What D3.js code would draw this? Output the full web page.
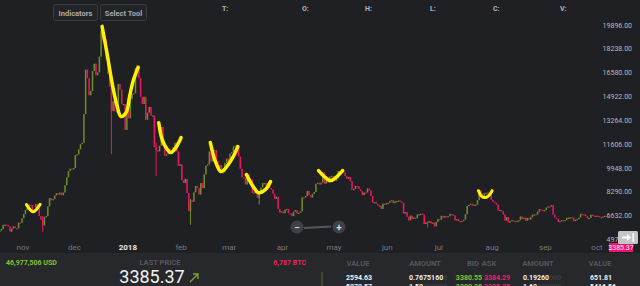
<!DOCTYPE html>
<html>
<head>
<meta charset="utf-8">
<script src="https://cdn.jsdelivr.net/npm/d3@7"></script>
<style>
  body { margin: 0; background: #1f2024; overflow: hidden; }
  svg { display: block; font-family: Roboto, "Open Sans", sans-serif; }
</style>
</head>
<body>
<svg id="chart" width="640" height="286"></svg>
<script>
// first candle date, then one daily close per day
var startDay = "2017-10-18";
var closes = [
  // oct 18-31
  5580, 5700, 5990, 6010, 5980, 5900, 5520, 5730, 5890, 5770, 5750, 6150, 6130, 6450,
  // nov
  6750, 7030, 7150, 7400, 7380, 6960, 7100, 7450, 7150, 6600, 6350, 5950, 6550, 6600, 7280,
  7850, 7700, 7780, 8040, 8200, 8100, 8240, 8050, 8240, 8750, 9300, 9730, 9900, 9850, 9950,
  // dec
  10850, 10900, 11250, 11600, 11700, 13700, 16800, 16200, 15000, 15300, 16700, 17200, 16400, 16600, 17700,
  19500, 19100, 18900, 17500, 16500, 15600, 13900, 14600, 13900, 13900, 15800, 15400, 14400, 14400, 12600, 13900,
  // jan
  13400, 14750, 15100, 15150, 16900, 17100, 16200, 14900, 14400, 14900, 13300, 13800, 14200, 13600, 13600,
  11400, 11200, 11100, 11500, 12800, 11500, 10800, 10900, 11300, 11100, 11100, 11400, 11700, 11100, 10100, 10200,
  // feb
  9100, 8900, 9200, 8200, 6950, 7700, 7600, 8250, 8700, 8550, 8100, 8900, 8550, 9500,
  10100, 10200, 11100, 10400, 11150, 11200, 10450, 9850, 10150, 9600, 9650, 10300, 10600, 10300,
  // mar
  10950, 11050, 11450, 11500, 11550, 10750, 9900, 9300, 9250, 8800, 9550, 9150, 9150, 8200, 8250,
  8270, 7870, 8200, 8600, 8900, 8900, 8700, 8900, 8550, 8450, 8150, 7800, 7950, 7100, 6850, 6930,
  // apr
  6800, 7050, 7100, 6800, 6780, 6600, 6900, 7020, 6770, 6830, 6940, 7900, 7890, 8000, 8350,
  8050, 7900, 8150, 8270, 8850, 8920, 8800, 8930, 9650, 8860, 9280, 8930, 9350, 9400, 9240,
  // may
  9070, 9230, 9740, 9700, 9850, 9650, 9380, 9200, 9320, 9030, 8430, 8480, 8700, 8680, 8480,
  8340, 8060, 8250, 8240, 8520, 8400, 8000, 7550, 7580, 7460, 7340, 7340, 7100, 7470, 7400, 7500,
  // jun
  7530, 7640, 7710, 7500, 7630, 7650, 7690, 7620, 7530, 6780, 6880, 6550, 6300, 6640, 6400,
  6500, 6460, 6710, 6740, 6760, 6720, 6050, 6180, 6150, 6250, 6090, 6150, 5890, 6200, 6390,
  // jul
  6350, 6620, 6500, 6600, 6530, 6600, 6750, 6700, 6650, 6300, 6390, 6250, 6230, 6270, 6350,
  6730, 7320, 7380, 7470, 7330, 7400, 7400, 7710, 8400, 8170, 7930, 8190, 8230, 8210, 8170, 7730,
  // aug
  7600, 7530, 7410, 7010, 7030, 6940, 6720, 6280, 6540, 6150, 6250, 6320, 6250, 6190, 6270,
  6310, 6580, 6400, 6490, 6270, 6480, 6360, 6520, 6700, 6720, 6710, 6910, 7080, 7030, 6980, 7020,
  // sep
  7190, 7270, 7260, 7360, 6700, 6500, 6410, 6190, 6250, 6320, 6290, 6330, 6490, 6490, 6520,
  6500, 6250, 6350, 6390, 6500, 6770, 6720, 6710, 6600, 6440, 6470, 6700, 6640, 6600, 6630,
  // oct
  6600, 6530, 6500, 6580, 6620, 6590, 6600
];

// a few long wicks that stick out
var wickDays = ["2017-11-12", "2017-12-17", "2017-12-22", "2018-01-17", "2018-02-06", "2018-03-18", "2018-06-24"];
var wickHigh = [6600, 19890, 14000, 11700, 7800, 8300, 6250];
var wickLow  = [5500, 18800, 10900, 9400, 6000, 7400, 5800];

var yTicks = [19896, 18238, 16580, 14922, 13264, 11606, 9948, 8290, 6632, 4974];
var monthTicks = ["2017-11-01", "2017-12-01", "2018-01-01", "2018-02-01", "2018-03-01", "2018-04-01",
  "2018-05-01", "2018-06-01", "2018-07-01", "2018-08-01", "2018-09-01", "2018-10-01"];
var monthLabels = ["nov", "dec", "2018", "feb", "mar", "apr", "may", "jun", "jul", "aug", "sep", "oct"];

// yellow hand drawn marks, [day, price]
var marks = [
  [["2017-11-03", 7400], ["2017-11-07", 6900], ["2017-11-11", 7420]],
  [["2017-12-17", 19800], ["2017-12-20", 17850], ["2017-12-23", 15760], ["2017-12-26", 14150],
   ["2017-12-28", 13530], ["2017-12-31", 13800], ["2018-01-02", 14920], ["2018-01-04", 15970], ["2018-01-07", 16940]],
  [["2018-01-19", 13100], ["2018-01-21", 11920], ["2018-01-24", 11230], ["2018-01-26", 11020],
   ["2018-01-29", 11370], ["2018-02-01", 12070]],
  [["2018-02-18", 11720], ["2018-02-21", 10390], ["2018-02-24", 9700], ["2018-02-26", 9830],
   ["2018-03-03", 10670], ["2018-03-06", 11440]],
  [["2018-03-11", 9490], ["2018-03-15", 8650], ["2018-03-18", 8230], ["2018-03-22", 8440], ["2018-03-25", 9000]],
  [["2018-04-22", 9770], ["2018-04-26", 9280], ["2018-04-29", 9070], ["2018-05-02", 9280], ["2018-05-06", 9770]],
  [["2018-07-24", 8370], ["2018-07-26", 7960], ["2018-07-28", 7890], ["2018-07-30", 8030], ["2018-08-01", 8370]]
];

var headerKeys = ["T:", "O:", "H:", "L:", "C:", "V:"];

var bookHead = ["VALUE", "AMOUNT", "BID", "ASK", "AMOUNT", "VALUE"];
var bookRows = [
  ["2594.63", "0.7675160", "3380.55", "3384.29", "0.19260", "651.81"],
  ["5070.57", "1.50", "3380.38", "3385.35", "1.60", "5416.56"]
];

var lastPrice = "3385.37";
var volUsd = "46,977,506 USD";
var volBtc = "6,787 BTC";

var svg = d3.select("#chart"),
  width = +svg.attr("width"),
  height = +svg.attr("height");

var parse = d3.timeParse("%Y-%m-%d");
var t0 = parse(startDay);

var candles = closes.map(function(c, i) {
  var open = i > 0 ? closes[i - 1] : c;
  return { date: d3.timeDay.offset(t0, i), open: open, close: c };
});

// scales
var x = d3.scaleTime()
  .domain([parse("2017-11-01"), parse("2018-10-01")])
  .range([23, 597]);
var y = d3.scaleLinear()
  .domain([4974, 19896])
  .range([239.5, 25]);

var green = "#6e8c2b", red = "#ef1463";

svg.append("rect").attr("width", width).attr("height", height).attr("fill", "#1f2024");

// price labels
svg.append("g").selectAll("text")
  .data(yTicks)
  .enter().append("text")
  .attr("x", 632)
  .attr("y", function(d) { return y(d) + 2.5; })
  .attr("text-anchor", "end")
  .attr("font-size", "7px")
  .attr("fill", "#b8b9bd")
  .text(function(d) { return d.toFixed(2); });

// candles
var plot = svg.append("g");
var dayW = x(parse("2017-11-02")) - x(parse("2017-11-01"));
var bw = dayW * 0.9;

plot.selectAll("line.wick")
  .data(wickDays)
  .enter().append("line")
  .attr("x1", function(d) { return x(parse(d)) + bw / 2; })
  .attr("x2", function(d) { return x(parse(d)) + bw / 2; })
  .attr("y1", function(d, i) { return y(wickHigh[i]); })
  .attr("y2", function(d, i) { return y(wickLow[i]); })
  .attr("stroke", function(d, i) {
    var c = candles.find(function(k) { return +k.date === +parse(d); });
    return c && c.close >= c.open ? green : red;
  })
  .attr("stroke-width", 1);

plot.selectAll("rect.candle")
  .data(candles)
  .enter().append("rect")
  .attr("x", function(d) { return x(d.date); })
  .attr("width", bw)
  .attr("y", function(d) { return y(Math.max(d.open, d.close)); })
  .attr("height", function(d) { return Math.max(1.2, Math.abs(y(d.open) - y(d.close))); })
  .attr("fill", function(d) { return d.close >= d.open ? green : red; });

// yellow marks
var markLine = d3.line()
  .x(function(p) { return x(parse(p[0])); })
  .y(function(p) { return y(p[1]); })
  .curve(d3.curveCatmullRom);

svg.append("g").selectAll("path")
  .data(marks)
  .enter().append("path")
  .attr("d", markLine)
  .attr("fill", "none")
  .attr("stroke", "#fff200")
  .attr("stroke-width", function(d, i) { return i === 0 || i === 6 ? 3 : 3.5; })
  .attr("stroke-linecap", "round")
  .attr("stroke-linejoin", "round");

// month axis
svg.append("g").selectAll("text")
  .data(monthTicks)
  .enter().append("text")
  .attr("x", function(d) { return x(parse(d)); })
  .attr("y", 250)
  .attr("text-anchor", "middle")
  .attr("font-size", "8px")
  .attr("fill", function(d, i) { return i === 2 ? "#e6e6e6" : "#76777b"; })
  .attr("font-weight", function(d, i) { return i === 2 ? "bold" : "normal"; })
  .text(function(d, i) { return monthLabels[i]; });

// last price tag
svg.append("rect").attr("x", 609).attr("y", 243).attr("width", 24).attr("height", 9).attr("fill", "#f2106b");
svg.append("text").attr("x", 621).attr("y", 250).attr("text-anchor", "middle")
  .attr("font-size", "7px").attr("fill", "#fff").text(lastPrice);

// go-to-end button
svg.append("rect").attr("x", 618).attr("y", 231).attr("width", 20).attr("height", 13).attr("rx", 1.5).attr("fill", "#c4c5c7");
svg.append("path").attr("d", "M622,236.5h5v-2.5l4,3.5l-4,3.5v-2.5h-5z").attr("fill", "#fff");
svg.append("rect").attr("x", 632.5).attr("y", 233).attr("width", 1.5).attr("height", 9).attr("fill", "#fff");

// zoom slider
svg.append("line").attr("x1", 304).attr("y1", 228).attr("x2", 331).attr("y2", 226.5)
  .attr("stroke", "#55565b").attr("stroke-width", 2);
[[297, "\u2212"], [339, "+"]].forEach(function(b) {
  svg.append("circle").attr("cx", b[0]).attr("cy", 227).attr("r", 6.5).attr("fill", "#404146");
  svg.append("text").attr("x", b[0]).attr("y", 230.5).attr("text-anchor", "middle")
    .attr("font-size", "10px").attr("font-weight", "bold").attr("fill", "#d8d8d8").text(b[1]);
});

// header buttons
[["Indicators", 53, 44], ["Select Tool", 100, 46]].forEach(function(b) {
  svg.append("rect").attr("x", b[1] + 0.5).attr("y", 4.5).attr("width", b[2]).attr("height", 16).attr("rx", 2)
    .attr("fill", "#232428").attr("stroke", "#3a3b40");
  svg.append("text").attr("x", b[1] + b[2] / 2 + 0.5).attr("y", 15.5).attr("text-anchor", "middle")
    .attr("font-size", "7.5px").attr("font-weight", "bold").attr("fill", "#a9aaae").text(b[0]);
});

svg.append("g").selectAll("text")
  .data(headerKeys)
  .enter().append("text")
  .attr("x", function(d, i) { return [222, 302, 365, 430, 493, 560][i]; })
  .attr("y", 11)
  .attr("font-size", "7px")
  .attr("font-weight", "bold")
  .attr("fill", "#b5b6ba")
  .text(function(d) { return d; });

// bottom panel
svg.append("rect").attr("x", 0).attr("y", 253).attr("width", width).attr("height", 33).attr("fill", "#27282c");

svg.append("text").attr("x", 6).attr("y", 265).attr("font-size", "7px").attr("font-weight", "bold")
  .attr("fill", "#86c232").text(volUsd);
svg.append("text").attr("x", 160).attr("y", 265).attr("text-anchor", "middle").attr("font-size", "7.5px")
  .attr("font-weight", "bold").attr("fill", "#55565b").text("LAST PRICE");
svg.append("text").attr("x", 306).attr("y", 265).attr("text-anchor", "end").attr("font-size", "7px")
  .attr("font-weight", "bold").attr("fill", "#f0215f").text(volBtc);
svg.append("text").attr("x", 152).attr("y", 283).attr("text-anchor", "middle").attr("font-size", "18px")
  .attr("fill", "#f2f2f2").text(lastPrice);
svg.append("path").attr("d", "M190,282l8,-8M193,274h5v5").attr("fill", "none")
  .attr("stroke", "#7fa33a").attr("stroke-width", 1.4);

svg.append("line").attr("x1", 322).attr("y1", 272).attr("x2", 322).attr("y2", 286)
  .attr("stroke", "#5d6b2e").attr("stroke-width", 1);

var headX = [358, 425, 473, 489, 538, 600];
svg.append("g").selectAll("text")
  .data(bookHead)
  .enter().append("text")
  .attr("x", function(d, i) { return headX[i]; })
  .attr("y", 266)
  .attr("text-anchor", "middle")
  .attr("font-size", "7.5px")
  .attr("font-weight", "bold")
  .attr("fill", "#55565b")
  .text(function(d) { return d; });

// bid is right aligned up to the middle, ask starts after it
var colX = [346, 409, 482, 484, 523, 590];
var colAnchor = ["start", "start", "end", "start", "start", "start"];
var colFill = ["#f0f0f0", "#f0f0f0", "#86c232", "#f0215f", "#f0f0f0", "#f0f0f0"];
var pad = ["", "0", "", "", "000", ""];
bookRows.forEach(function(row, r) {
  row.forEach(function(v, i) {
    var t = svg.append("text").attr("x", colX[i]).attr("y", 280 + r * 9)
      .attr("text-anchor", colAnchor[i])
      .attr("font-size", "7px").attr("font-weight", "bold").attr("fill", colFill[i]);
    t.append("tspan").text(v);
    var p = pad[i];
    if (r === 1 && (i === 1 || i === 4)) p = "00000000".slice(v.length - 2);
    if (p) t.append("tspan").attr("fill", "#3b3c40").text(p);
  });
});
</script>
</body>
</html>
